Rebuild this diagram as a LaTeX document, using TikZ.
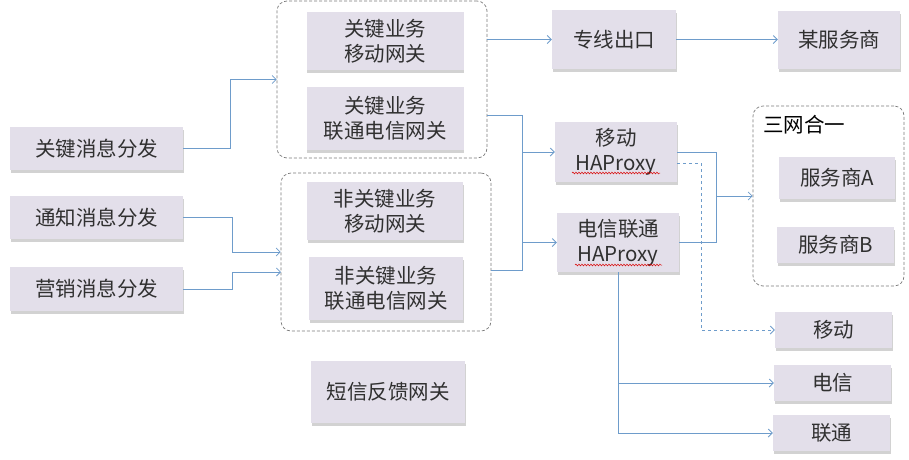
\documentclass[tikz,border=0pt]{standalone}
\usepackage{fontspec}
\newfontfamily\cjk{Noto Sans CJK SC}
\usetikzlibrary{arrows.meta,shadows,decorations.pathmorphing}

\definecolor{boxfill}{HTML}{E3DFEA}
\definecolor{linkblue}{HTML}{6E9CCB}
\definecolor{txtgray}{HTML}{303030}
\definecolor{framegray}{HTML}{7A7A7A}

\tikzset{
  box/.style={fill=boxfill, text=txtgray, align=center,
    font=\cjk\fontsize{20.5}{25}\selectfont, inner sep=0pt,
    drop shadow={shadow xshift=0.6pt, shadow yshift=-2.6pt, fill=black!35}},
  group/.style={draw=framegray, dash pattern=on 3pt off 2pt, rounded corners=10pt, line width=0.7pt},
  line/.style={draw=linkblue, line width=0.8pt},
  link/.style={line, ->, >={Straight Barb[length=4pt,width=8pt]}},
  squiggle/.style={red!85!black, line width=0.5pt,
    decorate, decoration={snake, amplitude=0.9pt, segment length=3pt}}
}

\begin{document}
\begin{tikzpicture}[x=1pt,y=-1pt]
    \useasboundingbox (0,0) rectangle (909,459);

    % 分组虚线框
    \node[group, minimum width=210pt, minimum height=157pt] (g1) at (382,79.5) {};
    \node[group, minimum width=210pt, minimum height=158pt] (g2) at (386,252) {};
    \node[group, minimum width=151pt, minimum height=180pt] (g3) at (828.5,196) {};
    \node[font=\cjk\fontsize{20.5}{25}\selectfont, text=black, anchor=west, inner sep=0pt] (swhy) at (763,125) {三网合一};

    % 消息分发
    \node[box, minimum width=173pt, minimum height=43pt] (kmsg) at (96.5,148.5) {关键消息分发};
    \node[box, minimum width=173pt, minimum height=43pt] (tmsg) at (96.5,217.5) {通知消息分发};
    \node[box, minimum width=173pt, minimum height=44pt] (ymsg) at (96.5,289) {营销消息分发};

    % 网关
    \node[box, minimum width=157pt, minimum height=58pt] (kyd) at (385,41) {关键业务\\移动网关};
    \node[box, minimum width=157pt, minimum height=63pt] (klt) at (385,118.5) {关键业务\\联通电信网关};
    \node[box, minimum width=156pt, minimum height=58pt] (nyd) at (385,211) {非关键业务\\移动网关};
    \node[box, minimum width=154pt, minimum height=63pt] (nlt) at (386,288.5) {非关键业务\\联通电信网关};
    \node[box, minimum width=154pt, minimum height=62pt] (fk) at (388,392) {短信反馈网关};

    % 出口与 HAProxy
    \node[box, minimum width=124pt, minimum height=59pt] (zx) at (614,39.5) {专线出口};
    \node[box, minimum width=122pt, minimum height=58pt] (mfs) at (839,40) {某服务商};
    \node[box, minimum width=122pt, minimum height=60pt] (ydha) at (616,152) {移动\\HAProxy};
    \node[box, minimum width=122pt, minimum height=59pt] (ltha) at (618,242.5) {电信联通\\HAProxy};

    % 服务商与运营商
    \node[box, minimum width=116pt, minimum height=42pt] (fsa) at (837,178) {服务商A};
    \node[box, minimum width=117pt, minimum height=36pt] (fsb) at (835.5,245) {服务商B};
    \node[box, minimum width=117pt, minimum height=36pt] (yd) at (833.5,330) {移动};
    \node[box, minimum width=117pt, minimum height=36pt] (dx) at (832.5,383) {电信};
    \node[box, minimum width=117pt, minimum height=36pt] (lt) at (831.5,433) {联通};

    % 拼写检查波浪线
    \draw[squiggle] (572,173) -- (660,173);
    \draw[squiggle] (575,265) -- (662,265);

    % 左侧连线
    \draw[link] (kmsg.east) -- ++(47,0) |- (g1.west);
    \draw[link] (tmsg.east) -- ++(49,0) |- (g2.west);
    \coordinate (g2in) at (281,272);
    \draw[link] (ymsg.east) -- ++(49,0) |- (g2in);

    % 专线
    \draw[link] (g1.east |- zx.west) -- (zx.west);
    \draw[link] (zx.east) -- (mfs.west |- zx.east);

    % 网关到 HAProxy
    \coordinate (j1) at (522,115);
    \coordinate (j2) at (522,270);
    \draw[line] (g1.east |- j1) -- (j1) -- (j2) -- (g2.east |- j2);
    \draw[link] (j1 |- ydha.west) -- (ydha.west);
    \draw[link] (j1 |- ltha.west) -- (ltha.west);

    % HAProxy 到三网合一
    \coordinate (j3) at (716,0);
    \draw[line] (ydha.east) -| (j3 |- ltha.east) -- (ltha.east);
    \draw[link] (j3 |- g3.west) -- (g3.west);

    % 移动（虚线）
    \coordinate (j4) at (701,163);
    \draw[link, dashed] (ydha.east |- j4) -- (j4) |- (yd.west);

    % 电信、联通
    \draw[link] (ltha.south) |- (lt.west);
    \draw[link] (ltha.south |- dx.west) -- (dx.west);
\end{tikzpicture}
\end{document}
